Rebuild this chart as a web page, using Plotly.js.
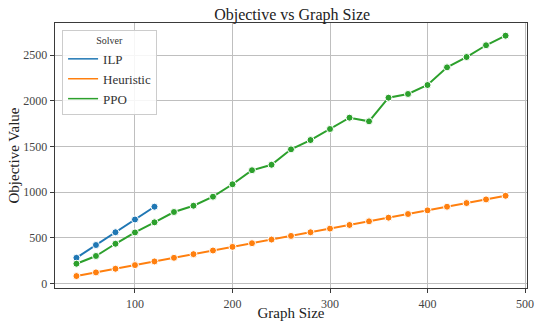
<!DOCTYPE html>
<html>
<head>
<meta charset="utf-8">
<script src="https://cdn.plot.ly/plotly-3.0.1.min.js"></script>
<style>html,body{margin:0;padding:0;background:#fff;}#chart{width:536px;height:321px;}</style>
</head>
<body>
<div id="chart"></div>
<script>
const ilpSizes = [40, 60, 80, 100, 120];
const ilpValues = [280, 420, 560, 700, 840];

const heuristicSizes = [40, 60, 80, 100, 120, 140, 160, 180, 200, 220, 240, 260, 280, 300, 320, 340, 360, 380, 400, 420, 440, 460, 480];
const heuristicValues = [80, 120, 160, 200, 240, 280, 320, 360, 400, 440, 480, 520, 560, 600, 640, 680, 720, 760, 800, 840, 880, 920, 960];

const ppoSizes = [40, 60, 80, 100, 120, 140, 160, 180, 200, 220, 240, 260, 280, 300, 320, 340, 360, 380, 400, 420, 440, 460, 480];
const ppoValues = [215, 300, 434, 558, 669, 782, 851, 950, 1086, 1240, 1300, 1469, 1571, 1692, 1816, 1776, 2035, 2076, 2174, 2368, 2481, 2610, 2715];

const xTicks = [100, 200, 300, 400, 500];
const yTicks = [0, 500, 1000, 1500, 2000, 2500];

const names = ['ILP', 'Heuristic', 'PPO'];
const colors = ['#1f77b4', '#ff7f0e', '#2ca02c'];
const xs = [ilpSizes, heuristicSizes, ppoSizes];
const ys = [ilpValues, heuristicValues, ppoValues];

const FONT = '"Liberation Serif", "DejaVu Serif", serif';
const traces = [];
for (let i = 0; i < 3; i++) {
  traces.push({
    x: xs[i], y: ys[i], type: 'scatter', mode: 'lines+markers',
    line: {color: colors[i], width: 2},
    marker: {color: colors[i], size: 7, line: {color: '#ffffff', width: 1}},
    showlegend: false, hoverinfo: 'skip'
  });
}
for (let i = 0; i < 3; i++) {
  traces.push({
    x: [null], y: [null], type: 'scatter', mode: 'lines', name: names[i],
    line: {color: colors[i], width: 1.5}, showlegend: true
  });
}

const axisCommon = {
  showline: true, mirror: true, linecolor: '#3a3a3a', linewidth: 1.3,
  showgrid: true, gridcolor: '#bfbfbf', gridwidth: 1,
  zeroline: false, ticks: 'outside', ticklen: 4, tickcolor: '#3a3a3a', tickwidth: 1,
  tickfont: {family: FONT, size: 12, color: '#444'}
};

const layout = {
  width: 536, height: 321,
  margin: {l: 55, r: 9, t: 23, b: 33},
  paper_bgcolor: '#fff', plot_bgcolor: '#fff',
  font: {family: FONT, color: '#333'},
  title: {text: 'Objective vs Graph Size', font: {family: FONT, size: 16, color: '#222'},
          x: 0.545, xanchor: 'center', y: 0.955, yanchor: 'middle', yref: 'container'},
  xaxis: Object.assign({}, axisCommon, {
    range: [18, 502], tickvals: xTicks, ticktext: xTicks.map(String),
    title: {text: 'Graph Size', font: {family: FONT, size: 15, color: '#222'}, standoff: 5}
  }),
  yaxis: Object.assign({}, axisCommon, {
    range: [-51, 2854], tickvals: yTicks, ticktext: yTicks.map(String),
    title: {text: 'Objective Value', font: {family: FONT, size: 15, color: '#222'}, standoff: 0}
  }),
  legend: {
    x: 0.015, y: 0.974, xanchor: 'left', yanchor: 'top',
    bgcolor: 'rgba(255,255,255,0.85)', bordercolor: '#cccccc', borderwidth: 1,
    font: {family: FONT, size: 13, color: '#333'},
    title: {text: 'Solver', side: 'top center', font: {family: FONT, size: 10, color: '#333'}},
    tracegroupgap: 0, itemwidth: 30
  },
  showlegend: true
};

Plotly.newPlot('chart', traces, layout, {displayModeBar: false, staticPlot: true});
</script>
</body>
</html>
